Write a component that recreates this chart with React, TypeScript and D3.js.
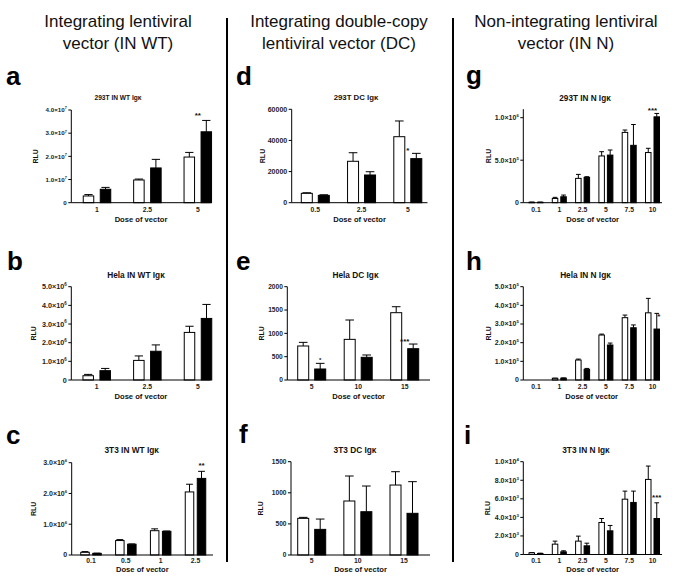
import React from 'react';
import * as d3 from 'd3';

// ---------- categories ----------
const dosesWT = ['1', '2.5', '5'];
const dosesWT3T3 = ['0.1', '0.5', '1', '2.5'];
const doses293DC = ['0.5', '2.5', '5'];
const dosesDC = ['5', '10', '15'];
const dosesN = ['0.1', '1', '2.5', '5', '7.5', '10'];

// ---------- series values (mean, mean+SEM) ----------
// a: 293T IN WT
const aWhite = [0.29e7, 0.98e7, 1.97e7];
const aWhiteErr = [0.35e7, 1.02e7, 2.17e7];
const aBlack = [0.58e7, 1.5e7, 3.06e7];
const aBlackErr = [0.66e7, 1.87e7, 3.55e7];
// b: Hela IN WT
const bWhite = [0.23e6, 1.05e6, 2.55e6];
const bWhiteErr = [0.3e6, 1.29e6, 2.88e6];
const bBlack = [0.5e6, 1.54e6, 3.3e6];
const bBlackErr = [0.62e6, 1.88e6, 4.05e6];
// c: 3T3 IN WT
const cWhite = [0.087e6, 0.47e6, 0.79e6, 2.05e6];
const cWhiteErr = [0.11e6, 0.5e6, 0.85e6, 2.3e6];
const cBlack = [0.054e6, 0.35e6, 0.77e6, 2.49e6];
const cBlackErr = [0.06e6, 0.36e6, 0.78e6, 2.72e6];
// d: 293T DC
const dWhite = [6000, 26600, 42400];
const dWhiteErr = [6400, 32100, 52500];
const dBlack = [4700, 17800, 28300];
const dBlackErr = [5100, 19900, 31700];
// e: Hela DC
const eWhite = [729, 871, 1443];
const eWhiteErr = [807, 1286, 1571];
const eBlack = [236, 486, 671];
const eBlackErr = [357, 536, 771];
// f: 3T3 DC
const fWhite = [589, 868, 1125];
const fWhiteErr = [605, 1270, 1339];
const fBlack = [412, 696, 670];
const fBlackErr = [578, 1109, 1179];
// g: 293T IN N
const gWhite = [0.005e6, 0.05e6, 0.286e6, 0.55e6, 0.827e6, 0.59e6];
const gWhiteErr = [0.007e6, 0.063e6, 0.333e6, 0.6e6, 0.855e6, 0.64e6];
const gBlack = [0.005e6, 0.07e6, 0.298e6, 0.56e6, 0.675e6, 1.01e6];
const gBlackErr = [0.007e6, 0.09e6, 0.306e6, 0.62e6, 0.92e6, 1.05e6];
// h: Hela IN N
const hWhite = [0, 0.09e5, 1.07e5, 2.41e5, 3.34e5, 3.6e5];
const hWhiteErr = [0, 0.1e5, 1.12e5, 2.46e5, 3.48e5, 4.375e5];
const hBlack = [0, 0.1e5, 0.57e5, 1.875e5, 2.8e5, 2.73e5];
const hBlackErr = [0, 0.11e5, 0.62e5, 1.98e5, 2.95e5, 3.57e5];
// i: 3T3 IN N
const iWhite = [180, 1115, 1440, 3450, 5960, 8090];
const iWhiteErr = [215, 1440, 1980, 3880, 6830, 9530];
const iBlack = [110, 290, 935, 2550, 5610, 3880];
const iBlackErr = [140, 400, 1220, 3130, 6830, 5570];

// ---------- tick values ----------
const aTicks = [0, 1e7, 2e7, 3e7, 4e7];
const bTicks = [0, 1e6, 2e6, 3e6, 4e6, 5e6];
const cTicks = [0, 1e6, 2e6, 3e6];
const dTicks = [0, 20000, 40000, 60000];
const eTicks = [0, 500, 1000, 1500, 2000];
const fTicks = [0, 500, 1000, 1500];
const gTicks = [0, 5e5, 1e6];
const hTicks = [0, 1e5, 2e5, 3e5, 4e5, 5e5];
const iTicks = [0, 2e3, 4e3, 6e3, 8e3, 1e4];

const headers = [
  ['Integrating lentiviral', 'vector (IN WT)'],
  ['Integrating double-copy', 'lentiviral vector (DC)'],
  ['Non-integrating lentiviral', 'vector (IN N)'],
];

// ---------- significance marks ----------
const marks = [
  { panel: 'a', dose: '5', text: '**', at: 'group' },
  { panel: 'd', dose: '5', text: '*', at: 'group' },
  { panel: 'g', dose: '10', text: '***', at: 'group' },
  { panel: 'e', dose: '5', text: '*', at: 'black' },
  { panel: 'e', dose: '15', text: '***', at: 'group' },
  { panel: 'h', dose: '10', text: '*', at: 'black' },
  { panel: 'c', dose: '2.5', text: '**', at: 'black' },
  { panel: 'i', dose: '10', text: '***', at: 'black' },
];

const FONT = '"Liberation Sans", Arial, Helvetica, sans-serif';

// layout (positions / sizes only)
const layout: Record<string, any> = {
  a: { ax0: 71.3, ax1: 210.7, c0: 97, cN: 197.8, y0: 202.7, yT: 110, barW: 11.5, gap: 5.5, tx: 118, ty: 100, ts: 6.6, tk: 6.2, lx: 6, ly: 85, rx: 37.5, markDy: 7, markSize: 8 },
  b: { ax0: 71.3, ax1: 210.5, c0: 96.7, cN: 198, y0: 380, yT: 286.7, barW: 11.5, gap: 5.5, tx: 136, ty: 278, ts: 8.3, tk: 7.2, lx: 7, ly: 270, rx: 35.5 },
  c: { ax0: 71.7, ax1: 213, c0: 91, cN: 195.5, y0: 555, yT: 462.7, barW: 9.5, gap: 2.5, tx: 131.7, ty: 453, ts: 8.3, tk: 7, lx: 6, ly: 444, rx: 35.5, markDy: 7.5, markSize: 8 },
  d: { ax0: 291.7, ax1: 427.5, c0: 315.3, cN: 407.8, y0: 202.7, yT: 109.3, barW: 12, gap: 5, tx: 356, ty: 99.5, ts: 7.8, tk: 7, lx: 236, ly: 85, rx: 264.5, markDy: 5, markSize: 8 },
  e: { ax0: 287.3, ax1: 430, c0: 311.7, cN: 404.7, y0: 380, yT: 286.7, barW: 12, gap: 5, tx: 355.5, ty: 278, ts: 8.3, tk: 6.6, lx: 236, ly: 270, rx: 263.5, markDy: 5, markSize: 8 },
  f: { ax0: 291, ax1: 430, c0: 311.7, cN: 404, y0: 555, yT: 461.7, barW: 12, gap: 5, tx: 355, ty: 453, ts: 8.3, tk: 6.6, lx: 239, ly: 443, rx: 262.5 },
  g: { ax0: 523.3, ax1: 662, c0: 536, cN: 652.5, y0: 202.7, yT: 117.7, barW: 6.5, gap: 2, tx: 585, ty: 100.7, ts: 8.2, tk: 7, lx: 466, ly: 84, rx: 490.5, axisMax: 1.1e6, markDy: 5, markSize: 8 },
  h: { ax0: 523.3, ax1: 660, c0: 536, cN: 652.5, y0: 380, yT: 286.7, barW: 6.5, gap: 2, tx: 585.5, ty: 278, ts: 8.3, tk: 7, lx: 466, ly: 270, rx: 490.5, markDy: -1, markDx: 2, markSize: 8 },
  i: { ax0: 523.3, ax1: 662, c0: 536, cN: 652.5, y0: 554.5, yT: 461.7, barW: 6.5, gap: 2, tx: 586, ty: 453, ts: 8.3, tk: 7, lx: 464, ly: 444, rx: 489.5, markDy: 7.5, markSize: 8 },
};

const panels = [
  { id: 'a', title: '293T IN WT Igκ', doses: dosesWT, white: aWhite, whiteErr: aWhiteErr, black: aBlack, blackErr: aBlackErr, ticks: aTicks, sci: true, rowY: 212, doseY: 221.5 },
  { id: 'b', title: 'Hela IN WT Igκ', doses: dosesWT, white: bWhite, whiteErr: bWhiteErr, black: bBlack, blackErr: bBlackErr, ticks: bTicks, sci: true, rowY: 388.5, doseY: 398.5 },
  { id: 'c', title: '3T3 IN WT Igκ', doses: dosesWT3T3, white: cWhite, whiteErr: cWhiteErr, black: cBlack, blackErr: cBlackErr, ticks: cTicks, sci: true, rowY: 562.5, doseY: 571.5 },
  { id: 'd', title: '293T DC Igκ', doses: doses293DC, white: dWhite, whiteErr: dWhiteErr, black: dBlack, blackErr: dBlackErr, ticks: dTicks, sci: false, rowY: 212, doseY: 221.5 },
  { id: 'e', title: 'Hela DC Igκ', doses: dosesDC, white: eWhite, whiteErr: eWhiteErr, black: eBlack, blackErr: eBlackErr, ticks: eTicks, sci: false, rowY: 388.5, doseY: 398.5 },
  { id: 'f', title: '3T3 DC Igκ', doses: dosesDC, white: fWhite, whiteErr: fWhiteErr, black: fBlack, blackErr: fBlackErr, ticks: fTicks, sci: false, rowY: 562.5, doseY: 571.5 },
  { id: 'g', title: '293T IN N Igκ', doses: dosesN, white: gWhite, whiteErr: gWhiteErr, black: gBlack, blackErr: gBlackErr, ticks: gTicks, sci: true, rowY: 212, doseY: 221.5 },
  { id: 'h', title: 'Hela IN N Igκ', doses: dosesN, white: hWhite, whiteErr: hWhiteErr, black: hBlack, blackErr: hBlackErr, ticks: hTicks, sci: true, rowY: 388.5, doseY: 398.5 },
  { id: 'i', title: '3T3 IN N Igκ', doses: dosesN, white: iWhite, whiteErr: iWhiteErr, black: iBlack, blackErr: iBlackErr, ticks: iTicks, sci: true, rowY: 562.5, doseY: 571.5 },
];

function TickLabel({ v, sci, x, y, fs }: any) {
  if (v === 0 || !sci) {
    return (
      <text x={x} y={y} dy="0.35em" textAnchor="end" fontSize={fs} fontWeight="bold" fill="#222">
        {String(v)}
      </text>
    );
  }
  const e = Math.floor(Math.log10(v) + 1e-9);
  const m = (v / Math.pow(10, e)).toFixed(1);
  return (
    <text x={x} y={y} dy="0.35em" textAnchor="end" fontSize={fs} fontWeight="bold" fill="#222">
      {m}×10
      <tspan dy={-fs * 0.45} fontSize={fs * 0.62}>{e}</tspan>
    </text>
  );
}

function Panel({ p }: any) {
  const L = layout[p.id];
  const tickMax = p.ticks[p.ticks.length - 1];
  const x = d3.scalePoint<string>().domain(p.doses).range([L.c0, L.cN]);
  const y = d3.scaleLinear().domain([0, tickMax]).range([L.y0, L.yT]);
  const axisTop = y(L.axisMax ?? tickMax);
  const cap = L.barW * 0.72;
  const bars: any[] = [];
  p.doses.forEach((d: string, i: number) => {
    const cx = x(d)!;
    const series = [
      { v: p.white[i], err: p.whiteErr[i], fill: '#fff', bx: cx - L.gap / 2 - L.barW },
      { v: p.black[i], err: p.blackErr[i], fill: '#000', bx: cx + L.gap / 2 },
    ];
    series.forEach((s, k) => {
      const mid = s.bx + L.barW / 2;
      if (s.err > s.v) {
        bars.push(
          <g key={`e${i}${k}`} stroke="#000" strokeWidth={1}>
            <line x1={mid} x2={mid} y1={y(s.v)} y2={y(s.err)} />
            <line x1={mid - cap / 2} x2={mid + cap / 2} y1={y(s.err)} y2={y(s.err)} />
          </g>
        );
      }
      if (s.v > 0) {
        const top = y(s.v);
        bars.push(
          <rect key={`b${i}${k}`} x={s.bx + 0.5} y={top} width={L.barW - 1} height={Math.max(0.5, L.y0 - top)}
            fill={s.fill} stroke="#000" strokeWidth={1} />
        );
      }
    });
  });
  const pm = marks.filter((m) => m.panel === p.id);
  return (
    <g fontFamily={FONT}>
      <text x={L.lx} y={L.ly} fontSize={26} fontWeight="bold" fill="#000">{p.id}</text>
      <text x={L.tx} y={L.ty} fontSize={L.ts} fontWeight="bold" textAnchor="middle" fill="#111">{p.title}</text>
      {bars}
      {/* y axis */}
      <line x1={L.ax0} x2={L.ax0} y1={L.y0} y2={axisTop} stroke="#000" strokeWidth={1} />
      {p.ticks.map((t: number) => (
        <g key={t}>
          <line x1={L.ax0 - 3} x2={L.ax0} y1={y(t)} y2={y(t)} stroke="#000" strokeWidth={1} />
          <TickLabel v={t} sci={p.sci} x={L.ax0 - 4.5} y={y(t)} fs={L.tk} />
        </g>
      ))}
      {/* x axis */}
      <line x1={L.ax0} x2={L.ax1} y1={L.y0} y2={L.y0} stroke="#000" strokeWidth={1} />
      {p.doses.map((d: string) => (
        <text key={d} x={x(d)} y={p.rowY} fontSize={6.8} fontWeight="bold" textAnchor="middle" fill="#222">{d}</text>
      ))}
      <text x={(L.ax0 + L.ax1) / 2} y={p.doseY} fontSize={7.6} fontWeight="bold" textAnchor="middle" fill="#111">Dose of vector</text>
      <text transform={`translate(${L.rx},${(L.y0 + axisTop) / 2}) rotate(-90)`} fontSize={7} fontWeight="bold" textAnchor="middle" fill="#111">RLU</text>
      {pm.map((m, k) => {
        const i = p.doses.indexOf(m.dose);
        const cx = x(m.dose)!;
        const bx = m.at === 'group' ? cx : cx + L.gap / 2 + L.barW / 2;
        const yc = y(Math.max(p.blackErr[i], p.black[i])) - L.markDy;
        const fs = m.panel === 'e' && m.dose === '5' ? 6 : L.markSize;
        return (
          <text key={k} x={bx + (L.markDx || 0)} y={yc + fs * 0.58} fontSize={fs} fontWeight="bold" textAnchor="middle" fill="#111">{m.text}</text>
        );
      })}
    </g>
  );
}

export default function App() {
  const colX = [118, 339, 566];
  return (
    <svg width={685} height={587} style={{ position: 'absolute', left: 0, top: 0, background: '#fff' }}>
      <rect x={0} y={0} width={685} height={587} fill="#fff" />
      {headers.map((h, i) => (
        <text key={i} fontFamily={FONT} fontSize={17} textAnchor="middle" fill="#111">
          <tspan x={colX[i]} y={27}>{h[0]}</tspan>
          <tspan x={colX[i]} y={49}>{h[1]}</tspan>
        </text>
      ))}
      <line x1={227} x2={227} y1={18} y2={562} stroke="#000" strokeWidth={2} />
      <line x1={453} x2={453} y1={18} y2={562} stroke="#000" strokeWidth={2} />
      {panels.map((p) => <Panel key={p.id} p={p} />)}
    </svg>
  );
}
